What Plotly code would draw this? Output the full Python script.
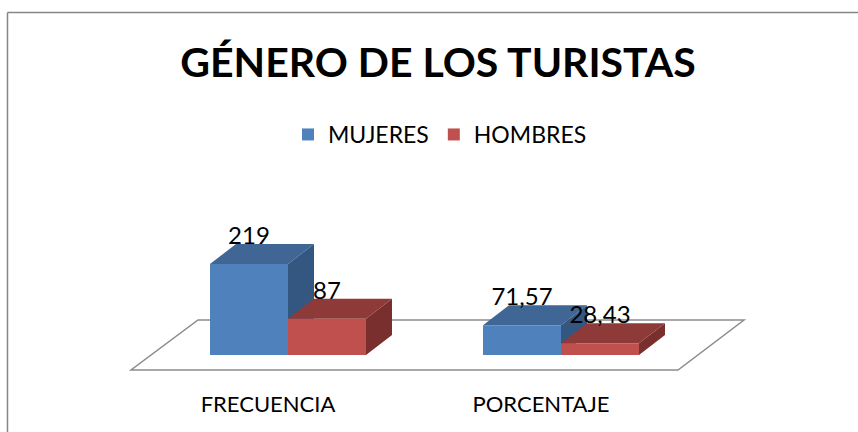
import plotly.graph_objects as go

title = "GÉNERO DE LOS TURISTAS"
categories = ["FRECUENCIA", "PORCENTAJE"]
mujeres = [219, 71.57]
hombres = [87, 28.43]
mujeres_labels = ["219", "71,57"]
hombres_labels = ["87", "28,43"]

W, H = 858, 432
BOTTOM = 47
PX_X = 273.0      # pixels per category step
PX_Y = 0.4155     # pixels per value unit
ORIGIN_X = 268.0  # pixel of the first category
BASE_Y = 355.0    # pixel of value 0
FONT = "Lato"

def dx(px):
    return px / PX_X

def dy(px):
    return px / PX_Y

def xval(px):
    return (px - ORIGIN_X) / PX_X

def yval(px):
    return (BASE_Y - px) / PX_Y

bar_w = dx(78)
depth_x, depth_y = dx(26), dy(20)
positions = list(range(len(categories)))
series = [
    dict(name="MUJERES", values=mujeres, labels=mujeres_labels, offset=dx(-58),
         front="#4F81BD", top="#3F6694", side="#335780"),
    dict(name="HOMBRES", values=hombres, labels=hombres_labels, offset=dx(20),
         front="#C0504D", top="#8E3A38", side="#792F2D"),
]

fig = go.Figure()

# depth faces live on the main axes, underneath the overlaying axes with the fronts
for s in series:
    tx, ty, sx, sy = [], [], [], []
    for p, v in zip(positions, s["values"]):
        x0 = p + s["offset"]
        x1 = x0 + bar_w
        tx += [x0, x1, x1 + depth_x, x0 + depth_x, x0, None]
        ty += [v, v, v + depth_y, v + depth_y, v, None]
        sx += [x1, x1 + depth_x, x1 + depth_x, x1, x1, None]
        sy += [0, depth_y, v + depth_y, v, 0, None]
    for fx, fy, col in ((sx, sy, s["side"]), (tx, ty, s["top"])):
        fig.add_trace(go.Scatter(x=fx, y=fy, mode="lines", fill="toself", fillcolor=col,
                                 line=dict(width=0, color=col), hoverinfo="skip",
                                 showlegend=False))

for s in series:
    fig.add_trace(go.Bar(x=positions, y=s["values"], name=s["name"], width=bar_w,
                         offset=s["offset"], marker=dict(color=s["front"], line=dict(width=0)),
                         hoverinfo="y", xaxis="x2", yaxis="y2"))

for s in series:
    fig.add_trace(go.Scatter(
        x=[p + s["offset"] + bar_w / 2 for p in positions],
        y=[v + dy(26) for v in s["values"]],
        text=s["labels"], mode="text", textposition="middle center",
        textfont=dict(family=FONT, size=24, color="#000000"),
        hoverinfo="skip", showlegend=False, xaxis="x2", yaxis="y2"))

floor_path = "M{},{} L{},{} L{},{} L{},{} Z".format(
    xval(131), yval(370), xval(678), yval(370), xval(744), yval(320), xval(198), yval(320))

x_range = [xval(0), xval(W)]
y_range = [yval(H - BOTTOM), yval(0)]

fig.update_layout(
    width=W, height=H, margin=dict(l=0, r=0, t=0, b=BOTTOM, pad=0),
    paper_bgcolor="white", plot_bgcolor="white", barmode="overlay",
    font=dict(family=FONT, color="#000000"),
    title=dict(text="<b>" + title + "</b>", x=438 / W, xref="paper", xanchor="center",
               y=1 - 63 / H, yref="container", yanchor="middle",
               font=dict(family=FONT, size=41, color="#000000")),
    legend=dict(orientation="h", x=288 / W, xanchor="left", y=1 - 113 / (H - BOTTOM), yanchor="top",
                font=dict(family=FONT, size=23), itemwidth=30, traceorder="normal",
                bgcolor="rgba(0,0,0,0)"),
    xaxis=dict(range=x_range, tickmode="array", tickvals=positions, ticktext=categories,
               showgrid=False, zeroline=False, showline=False, ticks="", ticklabelstandoff=4,
               tickfont=dict(family=FONT, size=22, color="#000000")),
    yaxis=dict(range=y_range, showgrid=False, zeroline=False, showline=False,
               showticklabels=False, ticks=""),
    xaxis2=dict(range=x_range, overlaying="x", visible=False),
    yaxis2=dict(range=y_range, overlaying="y", visible=False),
    shapes=[
        dict(type="path", path=floor_path, xref="x", yref="y", layer="below",
             line=dict(color="#8C8C8C", width=1.5), fillcolor="rgba(0,0,0,0)"),
        dict(type="line", xref="paper", yref="paper", x0=7.5 / W, x1=1,
             y0=1 - 12.5 / (H - BOTTOM), y1=1 - 12.5 / (H - BOTTOM),
             line=dict(color="#868686", width=1.5)),
        dict(type="line", xref="paper", yref="paper", x0=7.5 / W, x1=7.5 / W,
             y0=1 - 12.5 / (H - BOTTOM), y1=-BOTTOM / (H - BOTTOM),
             line=dict(color="#868686", width=1.5)),
    ],
)
fig.write_html("out.html", config=dict(displayModeBar=False),
               post_script="document.body.style.margin='0';document.body.style.overflow='hidden';")
